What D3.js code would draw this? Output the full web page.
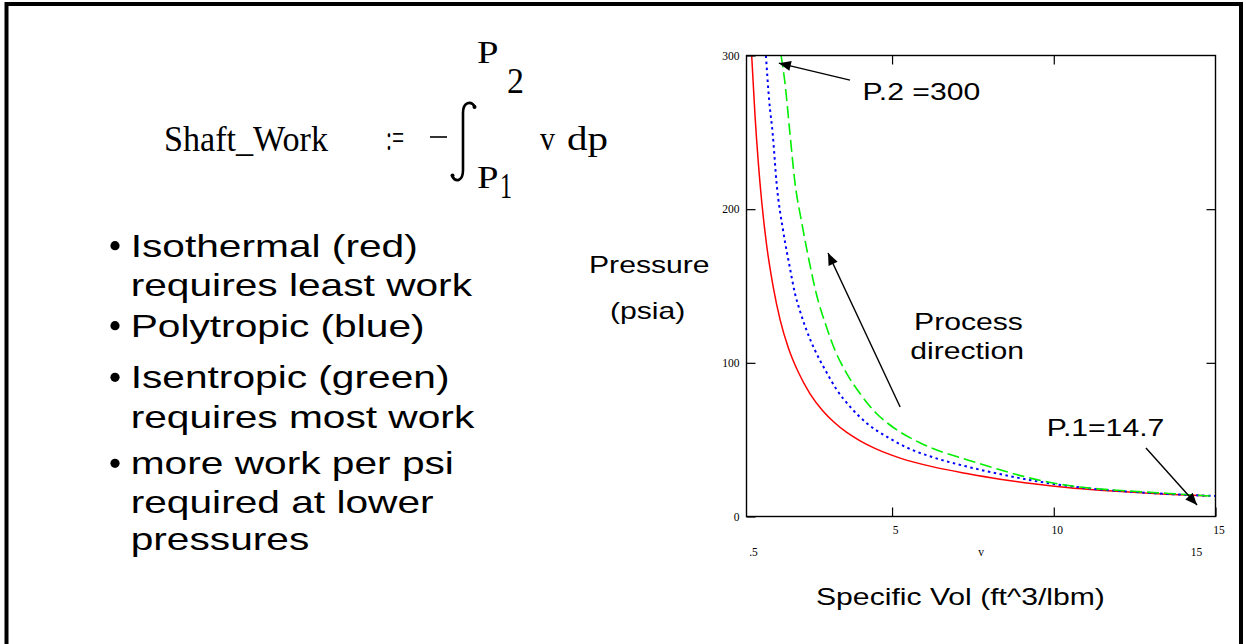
<!DOCTYPE html>
<html><head><meta charset="utf-8">
<script src="https://cdn.jsdelivr.net/npm/d3@7"></script>
<style>body{margin:0;background:#fff}svg{display:block}</style>
</head><body><svg id="c" width="1246" height="644"></svg>
<script>
// ---- data ----
const xTicks = [5, 10, 15];
const yTicks = [0, 100, 200, 300];
const xTopTicks = [5, 10];
const yRightTicks = [100, 200];
const xRangeLabels = [".5", "v", "15"];
const xRangeValues = [0.5, 7.75, 15];

// isothermal (red)
const isoV = [0.66, 0.76, 0.87, 0.97, 1.12, 1.33, 1.54, 1.79, 2.10, 2.46, 2.87, 3.20, 3.60, 4.00, 4.42, 5.25, 6.27, 7.31, 8.34, 9.37, 10.40, 11.43, 12.46, 13.49, 14.73];
const isoP = [300, 262, 229, 205, 177, 149, 128, 110, 94, 80, 68.5, 61.5, 54.7, 49.4, 44.8, 38, 32.3, 28, 24.3, 21.3, 18.9, 17.1, 15.7, 14.5, 13.4];
// polytropic (blue)
const polyV = [1.10, 1.20, 1.31, 1.43, 1.64, 1.84, 2.00, 2.15, 2.36, 2.62, 2.93, 3.29, 3.70, 4.22, 4.83, 5.55, 6.27, 7.31, 8.34, 9.37, 10.40, 11.43, 12.46, 13.49, 15.0];
const polyP = [300, 271, 249, 217, 185, 162, 145, 134, 121, 108, 95.5, 82.5, 71.5, 60.7, 52, 44, 38.5, 32.5, 27.6, 23.3, 20, 17.6, 16, 14.7, 13.3];
// isentropic (green)
const isenV = [1.57, 1.69, 1.84, 2.00, 2.21, 2.41, 2.67, 2.93, 3.24, 3.60, 4.01, 4.52, 5.14, 5.86, 6.69, 7.31, 8.34, 9.37, 10.40, 11.43, 12.46, 13.49, 15.0];
const isenP = [300, 282, 250, 217, 191, 169, 144, 126, 108, 93, 80, 67, 56.5, 48, 41, 37, 30.4, 24.5, 20.3, 17.9, 16.4, 15.1, 13.1];

const bullets = [
  ["Isothermal (red)", "requires least work"],
  ["Polytropic (blue)"],
  ["Isentropic (green)", "requires most work"],
  ["more work per psi", "required at lower", "pressures"]
];

// ---- drawing ----
const svg = d3.select("#c");
svg.append("rect").attr("width", 1246).attr("height", 644).attr("fill", "#fff");
svg.append("path").attr("d", "M6.5,648V4H1241V648")
  .attr("fill", "none").attr("stroke", "#000").attr("stroke-width", 4);

const SANS = "'Liberation Sans', Arial, Helvetica, sans-serif";
const SERIF = "'Liberation Serif', 'Times New Roman', Times, serif";

function sText(str, x, yb, size, sx, anchor) {
  return svg.append("text")
    .attr("transform", `translate(${x},${yb}) scale(${sx},1)`)
    .attr("font-family", SANS).attr("font-size", size)
    .attr("text-anchor", anchor || "start").attr("fill", "#000").text(str);
}
function serifText(str, x, yb, size, len) {
  const t = svg.append("text").attr("x", x).attr("y", yb)
    .attr("font-family", SERIF).attr("font-size", size).attr("fill", "#000").text(str);
  if (len) t.attr("textLength", len).attr("lengthAdjust", "spacingAndGlyphs");
  return t;
}

// formula
serifText("Shaft_Work", 164, 151, 35, 164);
serifText(":=", 386, 150, 36, 18);
svg.append("line").attr("x1", 430).attr("x2", 447).attr("y1", 137).attr("y2", 137)
  .attr("stroke", "#000").attr("stroke-width", 1.6);
svg.append("path").attr("d", "M475,107 C471,100 463,102 463,113 L463,170 C463,181 456,183 452,176")
  .attr("fill", "none").attr("stroke", "#000").attr("stroke-width", 2.6);
svg.append("circle").attr("cx", 474.5).attr("cy", 107).attr("r", 2);
svg.append("circle").attr("cx", 452.5).attr("cy", 175.5).attr("r", 2);
serifText("P", 477, 63, 32, 21.5);
serifText("2", 507, 93, 36, 17);
serifText("P", 477, 188, 32, 21.5);
serifText("1", 500, 198, 36, 12);
serifText("v", 540, 150, 33, 15);
serifText("dp", 567, 150, 33, 41);

// bullets
const bulletBase = [[256.7, 295.7], [336.7], [388.3, 428.3], [474.3, 513.3, 550]];
bullets.forEach((lines, i) => {
  svg.append("circle").attr("cx", 115).attr("cy", bulletBase[i][0] - 11).attr("r", 4.6).attr("fill", "#000");
  lines.forEach((l, j) => sText(l, 130.7, bulletBase[i][j], 31.3, 1.3));
});

// axis titles
sText("Pressure", 589, 273, 23.2, 1.3);
sText("(psia)", 610, 319, 23.2, 1.3);
sText("Specific Vol (ft^3/lbm)", 816, 605, 23.2, 1.3);

// scales
const x = d3.scaleLinear().domain([0.5, 15]).range([746.5, 1215.5]);
const y = d3.scaleLinear().domain([0, 300]).range([516.5, 55.5]);

svg.append("defs").append("clipPath").attr("id", "plotclip").append("rect")
  .attr("x", 746.5).attr("y", 55.5).attr("width", 469).attr("height", 461);

// curves
const line = d3.line().x(d => x(d[0])).y(d => y(d[1])).curve(d3.curveMonotoneX);
const series = [
  {v: isoV, p: isoP, color: "#ff0000", dash: null, w: 1.5},
  {v: polyV, p: polyP, color: "#0000ff", dash: "2.5,3.5", w: 2},
  {v: isenV, p: isenP, color: "#00ee00", dash: "12,5", w: 1.6}
];
const cg = svg.append("g").attr("clip-path", "url(#plotclip)");
series.forEach(s => {
  cg.append("path").datum(s.v.map((v, i) => [v, s.p[i]]))
    .attr("d", line).attr("fill", "none").attr("stroke", s.color)
    .attr("stroke-width", s.w).attr("stroke-dasharray", s.dash);
});

// axes
function styleAxis(g) {
  g.select(".domain").remove();
  g.selectAll(".tick line").attr("stroke", "#000").attr("stroke-width", 1.2);
  g.selectAll(".tick text").attr("font-family", SERIF).attr("font-size", 11.5).attr("fill", "#000");
}
svg.append("g").attr("transform", "translate(0,516.5)")
  .call(d3.axisBottom(x).tickValues(xTicks).tickSize(-9).tickSizeOuter(0).tickPadding(9))
  .call(styleAxis).call(g => g.selectAll(".tick text").attr("dx", 3));
svg.append("g").attr("transform", "translate(0,55.5)")
  .call(d3.axisTop(x).tickValues(xTopTicks).tickSize(-9).tickSizeOuter(0).tickFormat(""))
  .call(styleAxis);
svg.append("g").attr("transform", "translate(746.5,0)")
  .call(d3.axisLeft(y).tickValues(yTicks).tickSize(-9).tickSizeOuter(0).tickPadding(7))
  .call(styleAxis);
svg.append("g").attr("transform", "translate(1215.5,0)")
  .call(d3.axisRight(y).tickValues(yRightTicks).tickSize(-9).tickSizeOuter(0).tickFormat(""))
  .call(styleAxis);

svg.append("rect").attr("x", 746.5).attr("y", 55.5).attr("width", 469).attr("height", 461)
  .attr("fill", "none").attr("stroke", "#000").attr("stroke-width", 1.4);

// range labels row
xRangeLabels.forEach((t, i) => {
  svg.append("text").attr("x", x(xRangeValues[i]) + [7, 0, -19][i]).attr("y", 556)
    .attr("text-anchor", "middle").attr("font-family", SERIF).attr("font-size", 11.5).text(t);
});

// annotations (in data units)
const defs = svg.select("defs");
defs.append("marker").attr("id", "ah").attr("viewBox", "0 0 12 10")
  .attr("refX", 12).attr("refY", 5).attr("markerWidth", 13).attr("markerHeight", 10)
  .attr("markerUnits", "userSpaceOnUse").attr("orient", "auto")
  .append("path").attr("d", "M0,0 L12,5 L0,10 Z").attr("fill", "#000");
const arrows = [
  {from: [3.70, 284], to: [1.50, 295]},
  {from: [5.25, 71.3], to: [3.02, 171.5]},
  {from: [12.85, 44.6], to: [14.43, 7.5]}
];
arrows.forEach(a => {
  svg.append("line").attr("x1", x(a.from[0])).attr("y1", y(a.from[1]))
    .attr("x2", x(a.to[0])).attr("y2", y(a.to[1]))
    .attr("stroke", "#000").attr("stroke-width", 1.4).attr("marker-end", "url(#ah)");
});
const notes = [
  {t: "P.2 =300", v: 4.09, p: 271},
  {t: "Process", v: 5.68, p: 121.2},
  {t: "direction", v: 5.56, p: 102.3},
  {t: "P.1=14.7", v: 9.78, p: 52.4}
];
notes.forEach(n => sText(n.t, x(n.v), y(n.p), 23.2, 1.3));
</script>
</body></html>
